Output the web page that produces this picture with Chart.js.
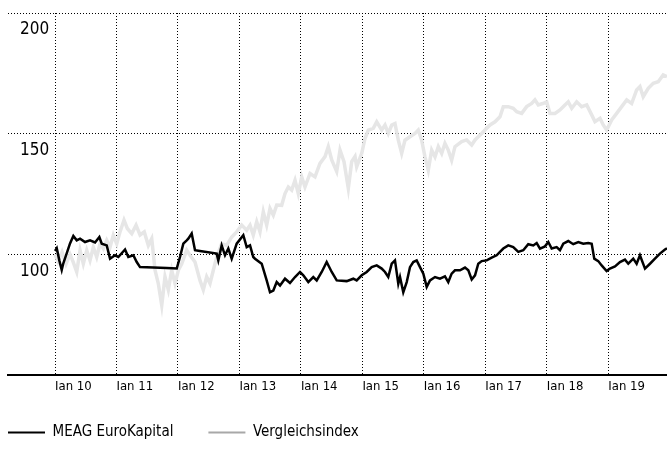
<!DOCTYPE html>
<html>
<head>
<meta charset="utf-8">
<script src="https://cdn.jsdelivr.net/npm/chart.js@4/dist/chart.umd.min.js"></script>
<style>
  html, body { margin: 0; padding: 0; background: #ffffff; }
  #wrap { width: 667px; height: 450px; }
</style>
</head>
<body>
<div id="wrap"><canvas id="c" width="667" height="450"></canvas></div>
<script>
// ---- data (decimal years) ----
const seriesNames = ['MEAG EuroKapital', 'Vergleichsindex'];

const tickYears = [2010, 2011, 2012, 2013, 2014, 2015, 2016, 2017, 2018, 2019];
const tickLabels = ['Jan 10', 'Jan 11', 'Jan 12', 'Jan 13', 'Jan 14', 'Jan 15', 'Jan 16', 'Jan 17', 'Jan 18', 'Jan 19'];
const yTicks = [100, 150, 200];

const meagDates = [
  2010.000, 2010.028, 2010.070, 2010.109, 2010.135, 2010.190, 2010.244, 2010.298, 2010.353, 2010.407,
  2010.488, 2010.569, 2010.651, 2010.721, 2010.760, 2010.841, 2010.895, 2010.976, 2011.030, 2011.139,
  2011.192, 2011.274, 2011.329, 2011.383, 2011.599, 2011.817, 2011.980, 2012.033, 2012.087, 2012.142,
  2012.168, 2012.223, 2012.277, 2012.358, 2012.630, 2012.656, 2012.711, 2012.765, 2012.819, 2012.874,
  2012.955, 2013.063, 2013.118, 2013.172, 2013.225, 2013.253, 2013.362, 2013.443, 2013.497, 2013.551,
  2013.606, 2013.660, 2013.741, 2013.822, 2013.904, 2013.985, 2014.039, 2014.120, 2014.201, 2014.257,
  2014.338, 2014.419, 2014.501, 2014.582, 2014.745, 2014.852, 2014.907, 2014.989, 2015.070, 2015.151,
  2015.233, 2015.314, 2015.368, 2015.421, 2015.477, 2015.530, 2015.584, 2015.612, 2015.665, 2015.721,
  2015.774, 2015.828, 2015.883, 2015.937, 2015.991, 2016.046, 2016.100, 2016.181, 2016.262, 2016.343,
  2016.397, 2016.452, 2016.506, 2016.588, 2016.669, 2016.723, 2016.778, 2016.832, 2016.885, 2016.941,
  2017.022, 2017.103, 2017.184, 2017.238, 2017.292, 2017.373, 2017.454, 2017.536, 2017.617, 2017.698,
  2017.780, 2017.835, 2017.889, 2017.970, 2018.024, 2018.079, 2018.160, 2018.214, 2018.268, 2018.349,
  2018.430, 2018.512, 2018.593, 2018.674, 2018.730, 2018.772, 2018.837, 2018.892, 2018.973, 2019.027,
  2019.109, 2019.190, 2019.271, 2019.325, 2019.406, 2019.461, 2019.515, 2019.597, 2019.678, 2019.759,
  2019.840, 2019.922, 2019.955
];
const meagValues = [
  101.4, 102.5, 97.5, 93.5, 96.3, 100.4, 104.5, 107.6, 105.8, 106.5,
  105.1, 105.8, 104.9, 107.2, 104.4, 103.7, 98.2, 99.6, 98.9, 102.0,
  98.9, 99.6, 96.8, 94.7, 94.5, 94.3, 94.1, 98.9, 104.4, 105.8,
  106.5, 108.6, 101.7, 101.4, 100.3, 97.5, 103.7, 99.6, 102.4, 98.2,
  104.4, 107.9, 103.0, 103.7, 98.9, 98.2, 96.1, 89.2, 84.3, 85.0,
  88.5, 87.1, 89.9, 88.1, 90.6, 92.7, 91.3, 88.5, 90.6, 89.2,
  92.7, 96.8, 92.7, 89.2, 88.9, 89.9, 89.2, 91.3, 92.7, 94.7,
  95.4, 94.1, 92.7, 90.6, 96.1, 97.5, 87.8, 90.6, 84.3, 88.5,
  94.7, 96.8, 97.5, 94.7, 92.0, 86.5, 89.2, 90.6, 89.9, 90.9,
  88.5, 92.0, 93.4, 93.4, 94.5, 93.4, 89.6, 91.3, 96.1, 97.2,
  97.5, 98.6, 99.6, 101.0, 102.4, 103.7, 103.0, 101.0, 101.7, 104.2,
  103.7, 104.7, 102.4, 103.3, 105.1, 102.4, 103.0, 101.7, 104.4, 105.5,
  104.2, 105.1, 104.4, 104.7, 104.4, 98.2, 97.2, 95.4, 93.1, 94.1,
  95.0, 96.8, 97.8, 96.1, 98.2, 96.1, 99.6, 94.1, 96.1, 98.2,
  100.3, 102.0, 102.5
];

const indexDates = [
  2010.000, 2010.049, 2010.114, 2010.179, 2010.244, 2010.293, 2010.353, 2010.407, 2010.460, 2010.516,
  2010.569, 2010.623, 2010.678, 2010.732, 2010.786, 2010.841, 2010.895, 2010.948, 2011.004, 2011.057,
  2011.122, 2011.176, 2011.248, 2011.318, 2011.383, 2011.452, 2011.518, 2011.573, 2011.627, 2011.680,
  2011.736, 2011.789, 2011.843, 2011.898, 2011.952, 2012.006, 2012.061, 2012.142, 2012.196, 2012.277,
  2012.358, 2012.412, 2012.467, 2012.521, 2012.575, 2012.630, 2012.711, 2012.793, 2012.874, 2012.955,
  2013.037, 2013.118, 2013.172, 2013.225, 2013.281, 2013.334, 2013.388, 2013.443, 2013.497, 2013.551,
  2013.606, 2013.687, 2013.741, 2013.795, 2013.850, 2013.904, 2013.957, 2014.013, 2014.066, 2014.148,
  2014.229, 2014.310, 2014.392, 2014.445, 2014.501, 2014.582, 2014.636, 2014.701, 2014.771, 2014.826,
  2014.880, 2014.907, 2014.989, 2015.042, 2015.096, 2015.177, 2015.233, 2015.314, 2015.368, 2015.421,
  2015.477, 2015.530, 2015.584, 2015.639, 2015.693, 2015.774, 2015.856, 2015.909, 2015.964, 2016.018,
  2016.072, 2016.127, 2016.181, 2016.235, 2016.290, 2016.343, 2016.397, 2016.452, 2016.506, 2016.615,
  2016.696, 2016.778, 2016.832, 2016.885, 2016.941, 2016.994, 2017.076, 2017.157, 2017.238, 2017.292,
  2017.373, 2017.454, 2017.510, 2017.591, 2017.672, 2017.754, 2017.807, 2017.861, 2017.933, 2017.998,
  2018.051, 2018.133, 2018.214, 2018.295, 2018.349, 2018.405, 2018.486, 2018.567, 2018.649, 2018.730,
  2018.783, 2018.865, 2018.918, 2018.973, 2019.055, 2019.136, 2019.218, 2019.299, 2019.380, 2019.461,
  2019.515, 2019.568, 2019.650, 2019.731, 2019.812, 2019.893, 2019.955
];
const indexValues = [
  100.0, 97.0, 101.0, 96.0, 100.0, 97.0, 92.7, 101.7, 96.1, 101.7,
  97.5, 103.0, 98.9, 104.4, 102.4, 105.8, 103.0, 107.9, 104.4, 109.3,
  114.2, 110.7, 108.6, 112.1, 108.0, 109.3, 103.7, 106.5, 93.4, 87.9,
  78.9, 90.7, 85.3, 93.4, 87.9, 93.4, 96.1, 101.7, 99.6, 96.8,
  89.2, 85.3, 90.7, 87.9, 93.4, 98.9, 104.4, 103.7, 107.2, 109.3,
  112.1, 110.0, 112.1, 108.0, 113.5, 109.3, 117.6, 112.1, 119.0, 116.2,
  120.4, 120.3, 125.2, 127.9, 126.6, 130.7, 125.2, 132.1, 127.9, 133.5,
  132.1, 137.7, 140.5, 144.6, 139.1, 134.3, 143.2, 138.4, 127.3, 138.4,
  140.5, 136.3, 141.8, 148.0, 151.5, 152.2, 154.9, 151.5, 153.6, 150.1,
  153.6, 154.2, 147.3, 141.8, 147.3, 148.7, 150.1, 151.5, 147.3, 140.4,
  134.9, 143.2, 140.4, 144.6, 141.8, 146.0, 143.2, 139.0, 144.6, 146.7,
  147.4, 145.3, 147.4, 148.7, 150.1, 151.5, 153.6, 154.9, 157.0, 161.2,
  161.2, 160.5, 159.1, 158.4, 161.2, 162.5, 164.0, 161.9, 162.5, 163.2,
  158.4, 158.4, 159.8, 161.9, 163.2, 160.5, 163.2, 161.2, 161.9, 157.8,
  155.0, 156.4, 153.6, 151.5, 155.7, 158.4, 161.2, 164.0, 162.5, 168.1,
  169.5, 165.3, 168.8, 170.9, 171.5, 174.3, 173.6
];

const X_MIN = 2009.235, X_MAX = 2019.955;
const Y_MIN = 50, Y_MAX = 200;

const toPoints = (xs, ys) => xs.map((x, i) => ({ x: x, y: ys[i] }));

const FONT = "'Liberation Sans Narrow', 'DejaVu Sans Condensed', 'Liberation Sans', sans-serif";

const legendShift = {
  id: 'legendShift',
  afterLayout(chart) {
    const lg = chart.legend;
    if (lg) {
      const pad = lg.options.labels.padding;
      lg.left = 8 - pad;
    }
  }
};

new Chart(document.getElementById('c'), {
  type: 'line',
  data: {
    datasets: [
      {
        label: seriesNames[0],
        data: toPoints(meagDates, meagValues),
        borderColor: '#000000',
        backgroundColor: '#000000',
        borderWidth: 2.5,
        pointRadius: 0,
        tension: 0,
        fill: false
      },
      {
        label: seriesNames[1],
        data: toPoints(indexDates, indexValues),
        borderColor: '#e6e6e6',
        backgroundColor: '#e6e6e6',
        borderWidth: 3.5,
        pointRadius: 0,
        tension: 0,
        fill: false
      }
    ]
  },
  options: {
    responsive: false,
    animation: false,
    devicePixelRatio: 1,
    layout: { padding: { left: 8, right: 0, top: 13, bottom: 0 } },
    plugins: {
      tooltip: { enabled: false },
      legend: {
        position: 'bottom',
        align: 'start',
        labels: {
          boxWidth: 37,
          boxHeight: 2,
          padding: 35,
          color: '#000000',
          font: { family: FONT, size: 15 },
          generateLabels(chart) {
            return [
              { text: seriesNames[0], fillStyle: '#000000', strokeStyle: '#000000', lineWidth: 0, datasetIndex: 0 },
              { text: seriesNames[1], fillStyle: '#a8a8a8', strokeStyle: '#a8a8a8', lineWidth: 0, datasetIndex: 1 }
            ];
          }
        }
      }
    },
    scales: {
      x: {
        type: 'linear',
        min: X_MIN,
        max: X_MAX,
        afterBuildTicks(axis) { axis.ticks = tickYears.map(v => ({ value: v })); },
        afterFit(axis) { axis.height = 15; axis.paddingLeft = 0; axis.paddingRight = 0; },
        ticks: {
          align: 'start',
          padding: 4,
          color: '#000000',
          font: { family: FONT, size: 13 },
          maxRotation: 0,
          autoSkip: false,
          callback(value) { const i = tickYears.indexOf(value); return i >= 0 ? tickLabels[i] : ''; }
        },
        grid: {
          color: '#000000',
          lineWidth: 1,
          drawTicks: false,
          tickLength: 0
        },
        border: { display: true, color: '#000000', width: 2, dash: [1, 2] }
      },
      y: {
        type: 'linear',
        min: Y_MIN,
        max: Y_MAX,
        afterBuildTicks(axis) { axis.ticks = yTicks.map(v => ({ value: v })); },
        afterFit(axis) { axis.width = 0; axis.paddingTop = 0; axis.paddingBottom = 0; },
        ticks: {
          mirror: true,
          padding: 12,
          labelOffset: 17,
          color: '#000000',
          font: { family: FONT, size: 17 },
          callback(value) { return String(value); }
        },
        grid: {
          color: '#000000',
          lineWidth: 1,
          drawTicks: false,
          tickLength: 0
        },
        border: { display: false, dash: [1, 2] }
      }
    }
  },
  plugins: [legendShift]
});
</script>
</body>
</html>
